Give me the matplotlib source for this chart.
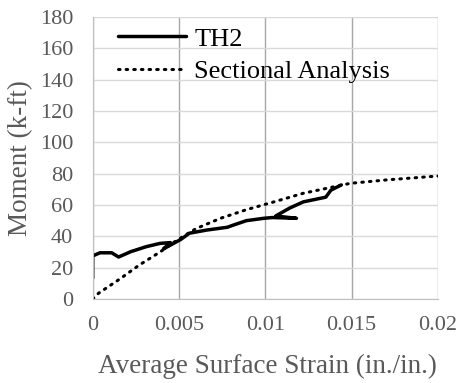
import matplotlib
matplotlib.use("Agg")
import matplotlib.pyplot as plt

plt.rcParams['font.family'] = ['Liberation Serif', 'DejaVu Serif']

# TH2 test curve (strain in./in., moment k-ft)
th2_strain = [0.0, 0.0, 0.00042, 0.0011, 0.0015, 0.0022, 0.0031, 0.0039, 0.0045,
              0.0041, 0.0051, 0.0056, 0.0066, 0.0078, 0.0081, 0.0089, 0.0099,
              0.0104, 0.0118, 0.0106, 0.0114, 0.0122, 0.0135, 0.0138, 0.0144]
th2_moment = [13.4, 27.5, 29.5, 29.5, 26.8, 30.2, 33.4, 35.5, 36.0,
              32.0, 38.0, 42.0, 44.0, 45.8, 47.0, 50.0, 51.5,
              52.0, 51.5, 53.0, 58.0, 62.0, 65.0, 69.5, 72.8]

# Sectional analysis prediction
sa_strain = [0.0, 0.00033, 0.0016, 0.0027, 0.0039, 0.0049, 0.006, 0.0074,
             0.0089, 0.0105, 0.0122, 0.0149, 0.017, 0.02]
sa_moment = [0.0, 3.6, 13.0, 21.7, 30.0, 37.7, 45.0, 51.5,
             57.0, 62.0, 67.5, 73.8, 76.0, 78.5]

x_ticks = [0, 0.005, 0.01, 0.015, 0.02]
x_ticklabels = ['0', '0.005', '0.01', '0.015', '0.02']
y_ticks = list(range(0, 181, 20))

fig = plt.figure(figsize=(4.63, 3.83), dpi=100)
ax = fig.add_axes([0.2002, 0.2193, 0.7458, 0.7363])

ax.plot(th2_strain, th2_moment, color='black', linewidth=2.5, label='TH2',
        solid_capstyle='round', solid_joinstyle='round')
ax.plot(sa_strain, sa_moment, color='black', linewidth=2.2, linestyle=(0, (0.5, 2.0)),
        dash_capstyle='round', label='Sectional Analysis')

ax.set_xlim(0, 0.02)
ax.set_ylim(0, 180)
ax.set_xticks(x_ticks)
ax.set_xticklabels(x_ticklabels)
ax.set_yticks(y_ticks)

ax.grid(axis='y', color='#d9d9d9', linewidth=1)
ax.grid(axis='x', color='#a6a6a6', linewidth=1)
ax.set_axisbelow(True)
for s in ['top', 'right']:
    ax.spines[s].set_visible(False)
for s in ['left', 'bottom']:
    ax.spines[s].set_color('#bfbfbf')
ax.tick_params(length=0, labelsize=16, labelcolor='#595959')
ax.tick_params(axis='x', pad=12)
ax.tick_params(axis='y', pad=14)

ax.set_xlabel('Average Surface Strain (in./in.)', fontsize=19.5, color='#595959',
              va='center')
ax.set_ylabel('Moment (k-ft)', fontsize=19.5, color='#595959', va='center')
ax.xaxis.set_label_coords(0.505, -0.238)
ax.yaxis.set_label_coords(-0.209, 0.5)

ax.legend(loc='upper left', frameon=False, fontsize=19, handlelength=2.6,
          handletextpad=0.3, labelspacing=0.35, borderaxespad=0, borderpad=0,
          bbox_to_anchor=(0.072, 0.964))

fig.savefig('out.png', dpi=100)
